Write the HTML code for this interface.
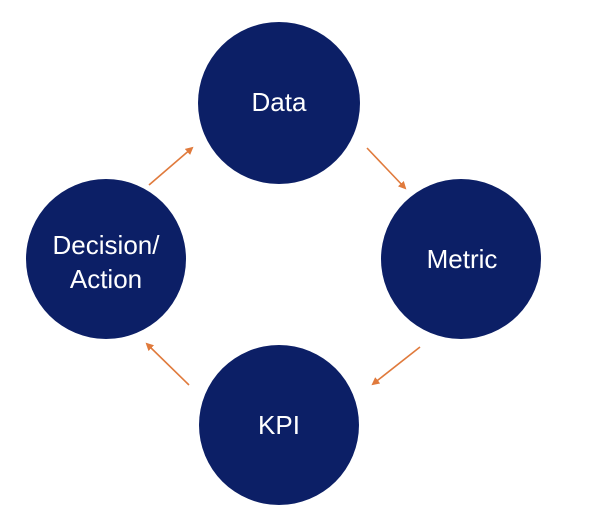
<!DOCTYPE html>
<html><head><style>
html,body{margin:0;padding:0;background:#fff;width:605px;height:525px;overflow:hidden}
</style></head><body>
<svg width="605" height="525" xmlns="http://www.w3.org/2000/svg">
<defs><marker id="a" markerWidth="8" markerHeight="8" refX="6" refY="4" orient="auto" markerUnits="userSpaceOnUse"><path d="M0,0 L8,4 L0,8 z" fill="#e07a3c"/></marker></defs>
<g fill="#0c1f66">
<circle cx="279" cy="103" r="81"/>
<circle cx="461" cy="259" r="80"/>
<circle cx="279" cy="425" r="80"/>
<circle cx="106" cy="259" r="80"/>
</g>
<g stroke="#e07a3c" stroke-width="1.6" fill="none" marker-end="url(#a)">
<line x1="149" y1="185" x2="192" y2="148"/>
<line x1="367" y1="148" x2="405" y2="188"/>
<line x1="420" y1="347" x2="373" y2="384"/>
<line x1="189" y1="385" x2="147" y2="344"/>
</g>
<g fill="#fff" font-family="Liberation Sans, sans-serif" font-size="26" text-anchor="middle">
<text x="279" y="111">Data</text>
<text x="462" y="268">Metric</text>
<text x="279" y="434">KPI</text>
<text x="106" y="254">Decision/</text>
<text x="106" y="288">Action</text>
</g>
</svg>
</body></html>
